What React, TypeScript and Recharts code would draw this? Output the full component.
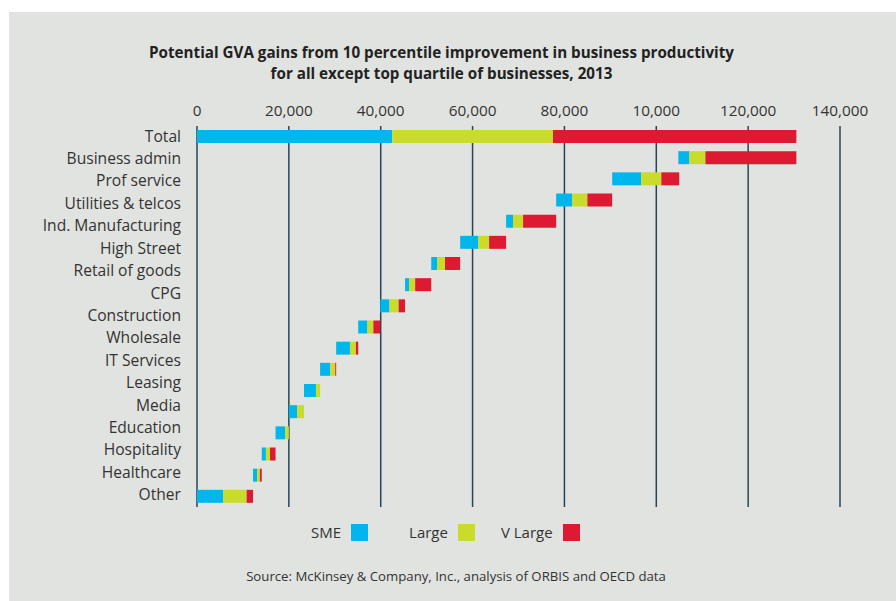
import React from 'react';
import { BarChart, Bar, XAxis, YAxis, CartesianGrid, Legend } from 'recharts';

// sector labels as printed (17 labels, spaced evenly down the axis)
const sectorLabels = [
  'Total',
  'Business admin',
  'Prof service',
  'Utilities & telcos ',
  'Ind. Manufacturing',
  'High Street',
  'Retail of goods',
  'CPG',
  'Construction',
  'Wholesale',
  'IT Services',
  'Leasing',
  'Media',
  'Education',
  'Hospitality',
  'Healthcare',
  'Other'
];

// the chart itself draws 18 waterfall steps
const stepStart = [0, 104800, 90400, 78200, 67300, 57300, 51000, 45300, 39900, 35100, 30300, 26800, 23300, 20000, 17100, 14100, 12200, 0];
const smeGain = [42500, 2400, 6300, 3500, 1500, 3900, 1300, 900, 2000, 2000, 3000, 2200, 2600, 1800, 2100, 900, 900, 5700];
const largeGain = [35000, 3500, 4400, 3300, 2200, 2400, 1700, 1300, 2000, 1300, 1300, 1100, 900, 1500, 800, 900, 600, 5100];
const vLargeGain = [53000, 19800, 3900, 5400, 7200, 3700, 3300, 3500, 1400, 1500, 500, 200, 0, 0, 0, 1200, 400, 1400];

const xTicks = [0, 20000, 40000, 60000, 80000, 100000, 120000, 140000];
const xTickLabels = ['0', '20,000', '40,000', '60,000', '80,000', '10,000', '120,000', '140,000'];

const seriesNames = ['SME', 'Large', 'V Large'];
const seriesColors = ['#00b6ed', '#c9dc2b', '#de1a33'];

const data = stepStart.map((start, i) => ({
  step: i,
  start,
  sme: smeGain[i],
  large: largeGain[i],
  vLarge: vLargeGain[i]
}));

// label rows sit at i + labelPad on a 0..labelSpan scale
const labelPad = 0.45;
const labelSpan = 16.98;
const labelTicks = sectorLabels.map((_, i) => i + labelPad);

const font = '"Open Sans", sans-serif';

const LegendBox = () => (
  <div style={{ display: 'flex', alignItems: 'center', paddingLeft: 311, fontFamily: font, fontSize: 15, color: '#333' }}>
    {seriesNames.map((name, i) => (
      <div key={name} style={{ display: 'flex', alignItems: 'center', marginRight: i === 0 ? 41 : 26 }}>
        <span>{name}</span>
        <span style={{ display: 'inline-block', width: 17, height: 17, marginLeft: 10, background: seriesColors[i] }} />
      </div>
    ))}
  </div>
);

const App = () => {
  return (
    <div style={{ position: 'absolute', left: 0, top: 0, width: 896, height: 601, background: '#fff', overflow: 'hidden' }}>
      <div style={{ position: 'absolute', left: 9, top: 12, width: 887, height: 589, background: '#e1e3e0' }} />
      <div
        style={{
          position: 'absolute',
          left: 0,
          top: 42,
          width: 883,
          textAlign: 'center',
          fontFamily: font,
          fontWeight: 700,
          fontSize: 15.2,
          lineHeight: '21px',
          color: '#222'
        }}
      >
        Potential GVA gains from 10 percentile improvement in business productivity
        <br />
        for all except top quartile of businesses, 2013
      </div>
      <div style={{ position: 'absolute', left: 0, top: 0 }}>
        <BarChart
          width={896}
          height={601}
          data={data}
          layout="vertical"
          margin={{ top: 96, right: 56, bottom: 94, left: 0 }}
          barSize={13}
        >
          <CartesianGrid horizontal={false} stroke="#26455a" strokeWidth={1.5} />
          <XAxis
            type="number"
            orientation="top"
            domain={[0, 140000]}
            ticks={xTicks}
            interval={0}
            height={30}
            axisLine={false}
            tickLine={false}
            tickSize={0}
            tickMargin={10}
            tickFormatter={(v: number) => xTickLabels[xTicks.indexOf(v)]}
            tick={{ fill: '#333', fontSize: 15.3, fontFamily: font }}
          />
          <YAxis type="category" dataKey="step" hide width={0} />
          <YAxis
            yAxisId="labels"
            type="number"
            domain={[0, labelSpan]}
            allowDataOverflow
            ticks={labelTicks}
            interval={0}
            width={197}
            axisLine={false}
            tickLine={false}
            tickSize={0}
            tickMargin={16}
            tickFormatter={(v: number) => sectorLabels[Math.round(v - labelPad)]}
            tick={{ fill: '#333', fontSize: 15.6, fontFamily: font }}
          />
          <Legend
            layout="horizontal"
            verticalAlign="middle"
            align="center"
            wrapperStyle={{ left: 0, top: 522, width: 896 }}
            content={<LegendBox />}
          />
          <Bar dataKey="start" stackId="w" fill="transparent" isAnimationActive={false} />
          <Bar dataKey="sme" name="SME" stackId="w" fill={seriesColors[0]} isAnimationActive={false} />
          <Bar dataKey="large" name="Large" stackId="w" fill={seriesColors[1]} isAnimationActive={false} />
          <Bar dataKey="vLarge" name="V Large" stackId="w" fill={seriesColors[2]} isAnimationActive={false} />
        </BarChart>
      </div>
      <div
        style={{
          position: 'absolute',
          left: 0,
          top: 567,
          width: 912,
          textAlign: 'center',
          fontFamily: font,
          fontSize: 13.2,
          color: '#333'
        }}
      >
        Source: McKinsey &amp; Company, Inc., analysis of ORBIS and OECD data
      </div>
    </div>
  );
};

export default App;
